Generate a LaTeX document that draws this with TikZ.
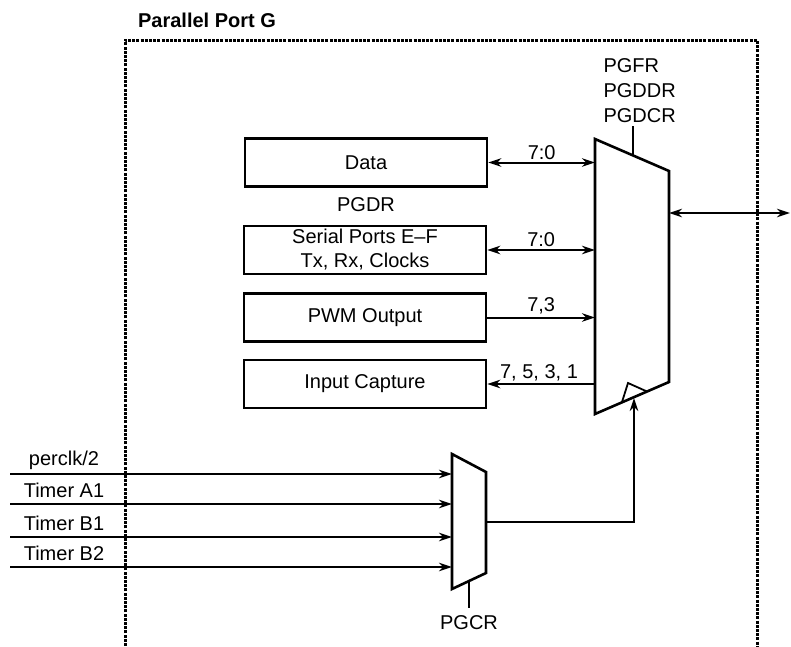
\documentclass[tikz,border=0pt]{standalone}
\usepackage{fontspec}
\setmainfont{Liberation Sans}
\usetikzlibrary{arrows.meta}

\begin{document}
\begin{tikzpicture}[x=1pt, y=-1pt, font=\fontsize{20}{24}\selectfont,
    >={Stealth[length=13pt, width=8.5pt, inset=4pt]}]
\useasboundingbox (0,0) rectangle (791,646);

% port frame, open at the bottom
\draw [line width=3pt, dash pattern=on 3pt off 1.2pt] (125,646) -- (125,40) -- (757,40) -- (757,646);
\node (title) at (207,20) [font=\fontsize{20}{24}\selectfont\bfseries] {Parallel Port G};

\begin{scope}[every node/.style={rectangle, draw, line width=2.6pt, inner sep=0pt,
                                 minimum width=242pt, minimum height=48pt, align=center}]
    \node (data) at (366,162.5) {Data};
    \node (serial) at (365,250) {Serial Ports E--F\\Tx, Rx, Clocks};
    \node (pwm) at (365,317.5) {PWM Output};
    \node (capture) at (365,384) {Input Capture};
\end{scope}
\node (pgdr) at (366,205) {PGDR};

% output mux
\draw [line width=2.6pt] (595,139) -- (669,171) -- (669,382) -- (595,414) -- cycle;
\draw [line width=1.8pt] (622,402) -- (628,383) -- (647,391.5);
\coordinate (muxin) at (595,0);
\coordinate (muxout) at (669,213);
\coordinate (muxsel) at (633,155);
\coordinate (muxclk) at (634,398);
\coordinate (pin) at (790,213);
\node (pgfr) at (600,91) [anchor=west, align=left, font=\fontsize{20}{25}\selectfont] {PGFR\\PGDDR\\PGDCR};
\draw [line width=1.8pt] (muxsel) -- (633,126);

% clock mux
\draw [line width=2.6pt] (452,454) -- (486,472) -- (486,573) -- (452,589) -- cycle;
\coordinate (clkin) at (452,0);
\coordinate (clkout) at (486,522);
\coordinate (clksel) at (469,581);
\draw [line width=1.8pt] (clksel) -- (469,608);
\node (pgcr) at (469,623) {PGCR};

\begin{scope}[every node/.style={anchor=south, inner sep=2pt}]
    \path [<->, line width=2pt] (data.east) edge node [pos=0.5] {7:0} (data.east -| muxin);
    \path [<->, line width=2pt] (serial.east) edge node [pos=0.5] {7:0} (serial.east -| muxin);
    \path [->, line width=2pt] (pwm.east) edge node [pos=0.5] {7,3} (pwm.east -| muxin);
    \path [<-, line width=2pt] (capture.east) edge node [pos=0.48] {7, 5, 3, 1} (capture.east -| muxin);
    \path [<->, line width=2pt] (muxout) edge (pin);
    \draw [->, line width=2pt] (clkout) -| (muxclk);
\end{scope}

% clock sources
\foreach \y/\txt [count=\i] in {474/perclk\slash 2, 504/Timer A1, 537/Timer B1, 567/Timer B2} {
    \coordinate (src\i) at (10,\y);
    \draw [->, line width=2pt] (src\i) -- (src\i -| clkin);
    \node (lbl\i) at (64,\y-14) {\txt};
}
\end{tikzpicture}
\end{document}
